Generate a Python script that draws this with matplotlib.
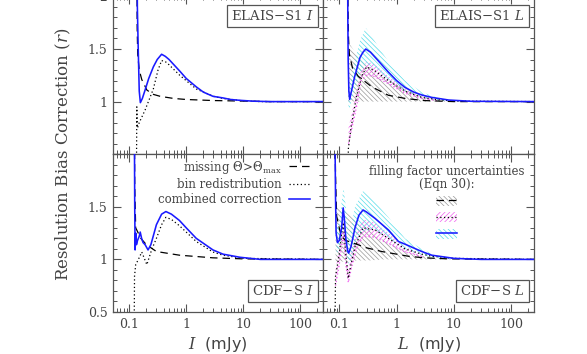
import numpy as np
import matplotlib
matplotlib.use("Agg")
import matplotlib.pyplot as plt
from matplotlib.patches import Patch
from matplotlib.lines import Line2D
from matplotlib.ticker import FixedLocator, MultipleLocator, LogLocator, NullFormatter, FixedFormatter

plt.rcParams['mathtext.fontset'] = 'dejavuserif'
plt.rcParams['hatch.linewidth'] = 0.5

# ---------------- data: ELAIS-S1 I (top-left) ----------------
esi_comb_x = [0.138, 0.139, 0.144, 0.150, 0.157, 0.17, 0.19, 0.22, 0.265, 0.31, 0.37, 0.43, 0.5, 0.77, 1.0, 1.5, 2.0, 2.95, 4.4, 6.0, 8.8, 15, 30, 250]
esi_comb_y = [2.2, 1.9, 1.5, 1.1, 0.99, 1.03, 1.11, 1.22, 1.33, 1.40, 1.45, 1.43, 1.40, 1.29, 1.22, 1.14, 1.09, 1.05, 1.035, 1.02, 1.012, 1.004, 1.0, 1.0]
esi_miss_x = [0.136, 0.138, 0.141, 0.150, 0.166, 0.204, 0.26, 0.35, 0.6, 1.0, 3.0, 10, 30, 250]
esi_miss_y = [2.5, 1.7, 1.45, 1.3, 1.21, 1.11, 1.07, 1.05, 1.03, 1.02, 1.01, 1.005, 1.0, 1.0]
esi_bin_x = [0.134, 0.136, 0.138, 0.14, 0.15, 0.19, 0.265, 0.32, 0.37, 0.43, 0.5, 0.77, 1.5, 3.0, 4.4, 8.8, 20, 250]
esi_bin_y = [0.3, 0.95, 0.8, 0.75, 0.8, 0.92, 1.12, 1.30, 1.39, 1.38, 1.35, 1.25, 1.12, 1.05, 1.03, 1.01, 1.0, 1.0]

# ---------------- data: CDF-S I (bottom-left) ----------------
cdi_comb_x = [0.1235, 0.125, 0.127, 0.13, 0.134, 0.14, 0.15, 0.156, 0.165, 0.175, 0.19, 0.214, 0.24, 0.3, 0.37, 0.44, 0.55, 0.76, 1.0, 1.5, 2.94, 4.4, 8.8, 20, 250]
cdi_comb_y = [2.2, 1.5, 1.09, 1.25, 1.14, 1.18, 1.22, 1.26, 1.2, 1.16, 1.14, 1.09, 1.14, 1.33, 1.43, 1.455, 1.43, 1.37, 1.3, 1.2, 1.09, 1.05, 1.02, 1.0, 1.0]
cdi_miss_x = [0.123, 0.125, 0.13, 0.16, 0.2, 0.3, 0.76, 2.94, 10, 250]
cdi_miss_y = [2.5, 1.7, 1.3, 1.2, 1.14, 1.075, 1.04, 1.015, 1.005, 1.0]
cdi_bin_x = [0.122, 0.124, 0.13, 0.145, 0.166, 0.204, 0.247, 0.3, 0.37, 0.44, 0.55, 0.76, 1.5, 2.94, 4.4, 10, 250]
cdi_bin_y = [0.3, 0.84, 0.95, 1.0, 1.07, 0.95, 1.09, 1.2, 1.33, 1.40, 1.38, 1.32, 1.17, 1.07, 1.04, 1.01, 1.0]

# ---------------- data: ELAIS-S1 L (top-right) ----------------
esl_comb_x = [0.140, 0.141, 0.143, 0.147, 0.152, 0.16, 0.186, 0.23, 0.26, 0.29, 0.35, 0.476, 0.72, 1.0, 1.4, 2.0, 2.75, 4.1, 8.1, 20, 250]
esl_comb_y = [2.2, 1.8, 1.4, 1.1, 1.02, 1.08, 1.24, 1.42, 1.47, 1.50, 1.47, 1.39, 1.28, 1.2, 1.135, 1.09, 1.063, 1.04, 1.015, 1.003, 1.0]
esl_miss_x = [0.14, 0.142, 0.145, 0.15, 0.17, 0.215, 0.37, 0.72, 1.42, 3.0, 10, 250]
esl_miss_y = [2.5, 1.9, 1.6, 1.45, 1.32, 1.24, 1.14, 1.06, 1.03, 1.01, 1.0, 1.0]
esl_bin_x = [0.142, 0.144, 0.16, 0.2, 0.25, 0.3, 0.4, 0.72, 1.4, 2.75, 5.0, 10, 250]
esl_bin_y = [0.3, 0.55, 0.75, 1.05, 1.25, 1.33, 1.3, 1.2, 1.1, 1.04, 1.02, 1.005, 1.0]
esl_cyan_x = [0.145, 0.15, 0.16, 0.186, 0.23, 0.29, 0.35, 0.48, 0.72, 1.4, 2.75, 5.0, 10, 20]
esl_cyan_lo = [0.95, 0.92, 0.98, 1.12, 1.27, 1.35, 1.34, 1.29, 1.21, 1.1, 1.04, 1.01, 1.0, 1.0]
esl_cyan_hi = [1.3, 1.15, 1.2, 1.38, 1.58, 1.70, 1.64, 1.52, 1.38, 1.2, 1.09, 1.04, 1.01, 1.0]
esl_grey_x = [0.142, 0.15, 0.2, 0.3, 0.5, 0.72, 1.4, 2.75, 5.0, 10]
esl_grey_lo = [1.0, 1.0, 1.0, 1.0, 1.0, 1.0, 1.0, 1.0, 1.0, 1.0]
esl_grey_hi = [1.6, 1.55, 1.45, 1.35, 1.25, 1.2, 1.14, 1.07, 1.03, 1.0]
esl_mag_x = [0.145, 0.2, 0.24, 0.3, 0.4, 0.72, 1.4, 2.75, 5.0]
esl_mag_lo = [0.6, 0.95, 1.2, 1.25, 1.24, 1.17, 1.08, 1.03, 1.01]
esl_mag_hi = [0.75, 1.1, 1.3, 1.38, 1.36, 1.24, 1.12, 1.05, 1.02]

# ---------------- data: CDF-S L (bottom-right) ----------------
cdl_comb_x = [0.084, 0.086, 0.088, 0.093, 0.1, 0.11, 0.117, 0.122, 0.13, 0.14, 0.146, 0.16, 0.188, 0.22, 0.26, 0.3, 0.42, 0.72, 1.08, 1.4, 2.75, 4.1, 10, 30, 250]
cdl_comb_y = [2.2, 1.6, 1.25, 1.16, 1.18, 1.3, 1.49, 1.4, 1.2, 1.08, 1.06, 1.12, 1.3, 1.42, 1.47, 1.45, 1.39, 1.28, 1.17, 1.145, 1.075, 1.04, 1.01, 1.0, 1.0]
cdl_miss_x = [0.083, 0.086, 0.09, 0.1, 0.108, 0.13, 0.188, 0.3, 0.55, 1.0, 1.6, 3.0, 8.0, 250]
cdl_miss_y = [2.5, 1.8, 1.41, 1.3, 1.22, 1.18, 1.15, 1.11, 1.075, 1.05, 1.03, 1.015, 1.005, 1.0]
cdl_bin_x = [0.084, 0.086, 0.09, 0.1, 0.11, 0.118, 0.13, 0.144, 0.16, 0.188, 0.26, 0.42, 0.72, 1.4, 2.75, 4.1, 10, 250]
cdl_bin_y = [0.3, 0.84, 0.9, 1.05, 1.25, 1.35, 1.05, 0.82, 0.95, 1.12, 1.3, 1.28, 1.2, 1.1, 1.05, 1.03, 1.01, 1.0]
cdl_cyan_x = [0.09, 0.1, 0.11, 0.119, 0.13, 0.146, 0.16, 0.188, 0.26, 0.42, 0.72, 1.4, 2.75, 5.0, 10]
cdl_cyan_lo = [1.05, 1.1, 1.2, 1.3, 1.1, 0.95, 1.0, 1.15, 1.27, 1.28, 1.2, 1.1, 1.04, 1.01, 1.0]
cdl_cyan_hi = [1.3, 1.35, 1.55, 1.68, 1.5, 1.2, 1.3, 1.5, 1.65, 1.55, 1.4, 1.2, 1.1, 1.03, 1.0]
cdl_grey_x = [0.086, 0.1, 0.13, 0.2, 0.34, 0.6, 1.4, 3.0, 6.0, 10]
cdl_grey_lo = [0.98, 0.98, 0.98, 0.99, 0.99, 1.0, 1.0, 1.0, 1.0, 1.0]
cdl_grey_hi = [1.5, 1.48, 1.45, 1.37, 1.27, 1.18, 1.08, 1.03, 1.01, 1.0]
cdl_mag_x = [0.086, 0.1, 0.118, 0.13, 0.144, 0.16, 0.2, 0.26, 0.42, 0.72, 1.4, 3.0]
cdl_mag_lo = [0.75, 0.95, 1.25, 0.95, 0.78, 0.9, 1.1, 1.22, 1.21, 1.15, 1.07, 1.02]
cdl_mag_hi = [0.9, 1.1, 1.4, 1.15, 0.9, 1.05, 1.25, 1.38, 1.35, 1.25, 1.12, 1.04]

x_ticks = [0.1, 1, 10, 100]
x_ticklabels = ['0.1', '1', '10', '100']
y_ticks = [0.5, 1.0, 1.5, 2.0]
y_ticklabels_top = ['', '1', '1.5', '2']
y_ticklabels_bottom = ['0.5', '1', '1.5', '']

panel_titles = [r'ELAIS$-$S1 $I$', r'ELAIS$-$S1 $L$', r'CDF$-$S $I$', r'CDF$-$S $L$']
legend_labels = [r'missing $\Theta\!>\!\Theta_{\rm max}$', 'bin redistribution', 'combined correction']

# ---------------- styles ----------------
AXC = '#555555'
TXC = '#444444'
BLUE = '#1a1aff'
CYAN = '#55dde8'
MAG = '#f060f0'
GREY = '#999999'
SERIF = 'DejaVu Serif'
DASH = (0, (6, 4))
DOT = (0, (1, 2))
HATCH_B = '\\' * 7
HATCH_F = '/' * 7

fig = plt.figure(figsize=(5.87, 3.54), dpi=100)
L0, W0 = 113 / 587, 210 / 587
L1, W1 = 323 / 587, 211 / 587
B0, H = 42 / 354, 157.8 / 354
B1 = B0 + H
ax_tl = fig.add_axes([L0, B1, W0, H])
ax_tr = fig.add_axes([L1, B1, W1, H])
ax_bl = fig.add_axes([L0, B0, W0, H])
ax_br = fig.add_axes([L1, B0, W1, H])


def style(ax, left_labels, bottom_labels, ylabels):
    ax.set_xscale('log')
    ax.set_xlim(0.052, 250)
    ax.set_ylim(0.5, 2.0)
    for s in ax.spines.values():
        s.set_color(AXC)
        s.set_linewidth(0.9)
    ax.xaxis.set_major_locator(FixedLocator(x_ticks))
    ax.xaxis.set_minor_locator(LogLocator(base=10, subs=np.arange(2, 10)))
    ax.xaxis.set_minor_formatter(NullFormatter())
    ax.yaxis.set_major_locator(FixedLocator(y_ticks))
    ax.yaxis.set_minor_locator(MultipleLocator(0.1))
    ax.tick_params(which='both', direction='in', top=True, right=True,
                   color=AXC, labelcolor=TXC, labelsize=9, pad=4)
    ax.tick_params(which='major', length=6, width=0.8)
    ax.tick_params(which='minor', length=3, width=0.7)
    if bottom_labels:
        ax.xaxis.set_major_formatter(FixedFormatter(x_ticklabels))
        for lab in ax.get_xticklabels():
            lab.set_fontfamily(SERIF)
    else:
        ax.tick_params(labelbottom=False)
    if left_labels:
        ax.yaxis.set_major_formatter(FixedFormatter(ylabels))
        for lab in ax.get_yticklabels():
            lab.set_fontfamily(SERIF)
    else:
        ax.tick_params(labelleft=False)


style(ax_tl, True, False, y_ticklabels_top)
style(ax_tr, False, False, None)
style(ax_bl, True, True, y_ticklabels_bottom)
style(ax_br, False, True, None)


def curves(ax, mx, my, bx, by, cx, cy):
    ax.plot(mx, my, color='black', lw=0.9, linestyle=DASH, zorder=4)
    ax.plot(bx, by, color='black', lw=0.9, linestyle=DOT, zorder=4)
    ax.plot(cx, cy, color=BLUE, lw=1.15, zorder=5)


def bands(ax, gx, glo, ghi, mgx, mlo, mhi, cyx, clo, chi):
    ax.fill_between(gx, glo, ghi, facecolor='none', edgecolor=GREY,
                    hatch=HATCH_B, linewidth=0, zorder=1)
    ax.fill_between(mgx, mlo, mhi, facecolor='none', edgecolor=MAG,
                    hatch=HATCH_F, linewidth=0, zorder=2)
    ax.plot(mgx, mlo, color=MAG, lw=0.9, linestyle=DOT, zorder=3)
    ax.fill_between(cyx, clo, chi, facecolor='none', edgecolor=CYAN,
                    hatch=HATCH_B, linewidth=0, zorder=2)


curves(ax_tl, esi_miss_x, esi_miss_y, esi_bin_x, esi_bin_y, esi_comb_x, esi_comb_y)
curves(ax_bl, cdi_miss_x, cdi_miss_y, cdi_bin_x, cdi_bin_y, cdi_comb_x, cdi_comb_y)
bands(ax_tr, esl_grey_x, esl_grey_lo, esl_grey_hi, esl_mag_x, esl_mag_lo, esl_mag_hi,
      esl_cyan_x, esl_cyan_lo, esl_cyan_hi)
curves(ax_tr, esl_miss_x, esl_miss_y, esl_bin_x, esl_bin_y, esl_comb_x, esl_comb_y)
bands(ax_br, cdl_grey_x, cdl_grey_lo, cdl_grey_hi, cdl_mag_x, cdl_mag_lo, cdl_mag_hi,
      cdl_cyan_x, cdl_cyan_lo, cdl_cyan_hi)
curves(ax_br, cdl_miss_x, cdl_miss_y, cdl_bin_x, cdl_bin_y, cdl_comb_x, cdl_comb_y)

box = dict(boxstyle='square,pad=0.32', facecolor='white', edgecolor=AXC, linewidth=0.9)
for ax, t, yy, va in [(ax_tl, panel_titles[0], 0.92, 'top'), (ax_tr, panel_titles[1], 0.92, 'top'),
                      (ax_bl, panel_titles[2], 0.09, 'bottom'), (ax_br, panel_titles[3], 0.09, 'bottom')]:
    ax.text(0.955, yy, t, transform=ax.transAxes, ha='right', va=va, fontsize=9.5,
            family=SERIF, color=TXC, bbox=box, zorder=10)

# legend (bottom-left)
h_miss = Line2D([], [], color='black', lw=0.9, linestyle=DASH)
h_bin = Line2D([], [], color='black', lw=0.9, linestyle=DOT)
h_comb = Line2D([], [], color=BLUE, lw=1.15)
leg = ax_bl.legend([h_miss, h_bin, h_comb], legend_labels,
                   loc='upper right', bbox_to_anchor=(0.99, 1.04), frameon=False, markerfirst=False,
                   handlelength=1.8, handletextpad=0.6, labelspacing=0.2,
                   prop={'family': SERIF, 'size': 8.5})
for t in leg.get_texts():
    t.set_color(TXC)

# legend (bottom-right)
p_grey = Patch(facecolor='none', edgecolor=GREY, hatch=HATCH_B, linewidth=0)
p_mag = Patch(facecolor='none', edgecolor=MAG, hatch=HATCH_F, linewidth=0)
p_cyan = Patch(facecolor='none', edgecolor=CYAN, hatch=HATCH_B, linewidth=0)
leg2 = ax_br.legend([(p_grey, Line2D([], [], color='black', lw=0.9, linestyle=DASH)),
                     (p_mag, Line2D([], [], color='black', lw=0.9, linestyle=DOT)),
                     (p_cyan, Line2D([], [], color=BLUE, lw=1.15))],
                    ['', '', ''], loc='upper center', bbox_to_anchor=(0.585, 1.0), frameon=False,
                    title='filling factor uncertainties\n(Eqn 30):',
                    title_fontproperties={'family': SERIF, 'size': 8.5},
                    handlelength=1.8, handleheight=0.9, handletextpad=0.0, labelspacing=0.3,
                    prop={'family': SERIF, 'size': 8.5})
leg2.get_title().set_color(TXC)
leg2.get_title().set_multialignment('center')
leg2.get_title().set_linespacing(1.05)

fig.text(63 / 587, 200 / 354, r'Resolution Bias Correction ($r$)', rotation=90,
         ha='center', va='center', fontsize=12, family=SERIF, color=TXC)
fig.text(218 / 587, 9 / 354, r'$I$  (mJy)', ha='center', va='center', fontsize=11.5,
         family='DejaVu Sans', color=TXC)
fig.text(428.5 / 587, 9 / 354, r'$L$  (mJy)', ha='center', va='center', fontsize=11.5,
         family='DejaVu Sans', color=TXC)

fig.savefig('out.png', dpi=100)
